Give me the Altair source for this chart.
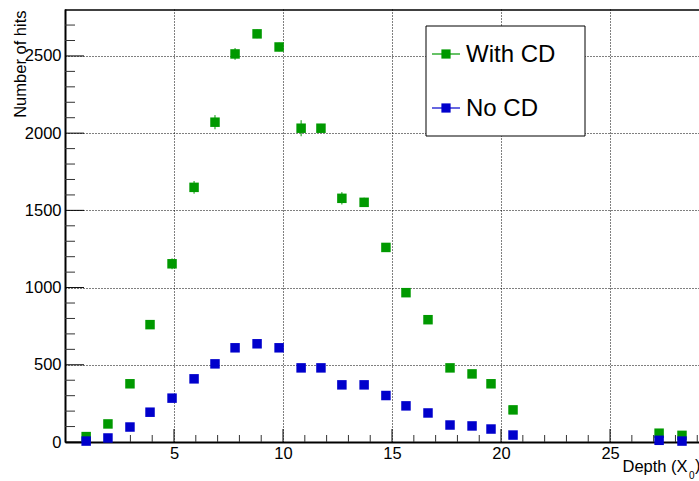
import altair as alt
import pandas as pd

# ---- data ----
depth = [0.97, 1.97, 2.98, 3.9, 4.91, 5.92, 6.88, 7.8, 8.81, 9.82, 10.83, 11.74,
         12.7, 13.72, 14.72, 15.64, 16.65, 17.66, 18.67, 19.54, 20.55, 27.25, 28.3]
with_cd = [35, 117, 377, 760, 1154, 1649, 2071, 2513, 2643, 2558, 2032, 2032,
           1578, 1552, 1260, 967, 792, 480, 441, 377, 208, 57, 43]
with_cd_err = [5, 10, 18, 27, 35, 41, 46, 38, 28, 28, 52, 28,
               40, 30, 28, 25, 22, 18, 17, 16, 12, 6, 5]
no_cd = [6, 26, 97, 193, 284, 409, 506, 610, 636, 610, 480, 480,
         370, 370, 301, 234, 188, 110, 104, 84, 45, 11, 6]
no_cd_err = [2, 5, 10, 14, 17, 20, 22, 25, 25, 25, 22, 22,
             19, 19, 17, 15, 14, 10, 10, 9, 7, 3, 2]

series_names = ["With CD", "No CD"]
series_colors = ["#009900", "#0000cc"]

x_major = [5, 10, 15, 20, 25]
x_minor = [1, 2, 3, 4, 6, 7, 8, 9, 11, 12, 13, 14, 16, 17, 18, 19, 21, 22, 23, 24, 26, 27, 28, 29]
y_major = [0, 500, 1000, 1500, 2000, 2500]
y_minor = [100, 200, 300, 400, 600, 700, 800, 900, 1100, 1200, 1300, 1400,
           1600, 1700, 1800, 1900, 2100, 2200, 2300, 2400, 2600, 2700]

X_DOMAIN = [0, 29.08]
Y_DOMAIN = [0, 2804]
W, H = 634, 433
FONT = "Liberation Sans"

# ---- tables ----
rows = []
for name, vals, errs in [(series_names[0], with_cd, with_cd_err), (series_names[1], no_cd, no_cd_err)]:
    for d, v, e in zip(depth, vals, errs):
        rows.append({"depth": d, "hits": v, "lo": v - e, "hi": v + e, "series": name})
df = pd.DataFrame(rows)

color = alt.Color("series:N", scale=alt.Scale(domain=series_names, range=series_colors), legend=None)
xs = alt.Scale(domain=X_DOMAIN, nice=False, zero=False)
ys = alt.Scale(domain=Y_DOMAIN, nice=False, zero=False)

x_axis = alt.Axis(values=x_major, grid=True, gridDash=[1, 2], gridColor="#000000", gridWidth=1,
                  ticks=False, domain=True, domainColor="#000000", domainWidth=2,
                  labelFont=FONT, labelFontSize=16.5, labelColor="#000000", labelPadding=3,
                  labelFlush=False, format="d",
                  title="Depth (X", titleFont=FONT, titleFontSize=16.5, titleFontWeight="normal",
                  titleColor="#000000", titleAlign="left", titleAnchor="start", titleX=557, titleY=29,
                  titleBaseline="alphabetic")
y_axis = alt.Axis(values=y_major, grid=True, gridDash=[1, 2], gridColor="#000000", gridWidth=1,
                  ticks=False, domain=True, domainColor="#000000", domainWidth=2,
                  labelFont=FONT, labelFontSize=16.5, labelColor="#000000", labelPadding=4,
                  labelFlush=False, format="d",
                  title="Number of hits", titleFont=FONT, titleFontSize=16.5, titleFontWeight="normal",
                  titleColor="#000000", titleAngle=270, titleAlign="right", titleX=-40, titleY=1,
                  titleBaseline="alphabetic")

base = alt.Chart(df)

errbars = base.mark_rule(strokeWidth=1).encode(
    x=alt.X("depth:Q", scale=xs, axis=x_axis),
    y=alt.Y("lo:Q", scale=ys, axis=y_axis),
    y2="hi:Q",
    color=color,
)
points = base.mark_square(size=90, opacity=1, strokeWidth=0).encode(
    x=alt.X("depth:Q", scale=xs, axis=x_axis),
    y=alt.Y("hits:Q", scale=ys, axis=y_axis),
    color=color,
)

# inward tick marks
yt_major = alt.Chart(pd.DataFrame({"v": y_major})).mark_rule(color="#000000", strokeWidth=1).encode(
    y=alt.Y("v:Q", scale=ys, axis=y_axis), x=alt.value(0), x2=alt.value(19))
yt_minor = alt.Chart(pd.DataFrame({"v": y_minor})).mark_rule(color="#333333", strokeWidth=1).encode(
    y=alt.Y("v:Q", scale=ys, axis=y_axis), x=alt.value(0), x2=alt.value(10))
xt_major = alt.Chart(pd.DataFrame({"v": x_major})).mark_rule(color="#000000", strokeWidth=1).encode(
    x=alt.X("v:Q", scale=xs, axis=x_axis), y=alt.value(H), y2=alt.value(H - 13))
xt_minor = alt.Chart(pd.DataFrame({"v": x_minor})).mark_rule(color="#333333", strokeWidth=1).encode(
    x=alt.X("v:Q", scale=xs, axis=x_axis), y=alt.value(H), y2=alt.value(H - 7))

top_line = alt.Chart(pd.DataFrame({"a": [0]})).mark_rule(color="#000000", strokeWidth=1.5).encode(
    x=alt.value(0), x2=alt.value(W), y=alt.value(1))

# subscript and closing parenthesis of the x title
title_sub = alt.Chart(pd.DataFrame({"t": ["0"]})).mark_text(
    align="left", baseline="alphabetic", font=FONT, fontSize=10, color="#000000").encode(
    x=alt.value(624), y=alt.value(470), text="t:N")
title_close = alt.Chart(pd.DataFrame({"t": [")"]})).mark_text(
    align="left", baseline="alphabetic", font=FONT, fontSize=16.5, color="#000000").encode(
    x=alt.value(630), y=alt.value(462), text="t:N")

# legend box
box = alt.Chart(pd.DataFrame({"a": [0]})).mark_rect(fill="#ffffff", stroke="#000000", strokeWidth=1).encode(
    x=alt.value(361), x2=alt.value(520), y=alt.value(17), y2=alt.value(127))

legend_layers = []
for i, name in enumerate(series_names):
    cy = 45 + 54 * i
    one = pd.DataFrame({"series": [name]})
    legend_layers.append(alt.Chart(one).mark_rule(strokeWidth=1.2).encode(
        x=alt.value(367), x2=alt.value(395), y=alt.value(cy), color=color))
    legend_layers.append(alt.Chart(one).mark_square(size=85, opacity=1, strokeWidth=0).encode(
        x=alt.value(381), y=alt.value(cy), color=color))
    legend_layers.append(alt.Chart(one).mark_text(
        align="left", baseline="middle", font=FONT, fontSize=24, color="#000000").encode(
        x=alt.value(401), y=alt.value(cy + 1), text="series:N"))

chart = alt.layer(
    errbars, yt_minor, yt_major, xt_minor, xt_major, top_line, points,
    title_sub, title_close, box, *legend_layers
).properties(
    width=W, height=H,
    padding={"left": 65, "top": 9, "right": 0, "bottom": 39},
    autosize="none",
    background="#ffffff",
).configure_view(stroke=None)

chart.save("out.html", embed_options={"renderer": "svg", "actions": False})
